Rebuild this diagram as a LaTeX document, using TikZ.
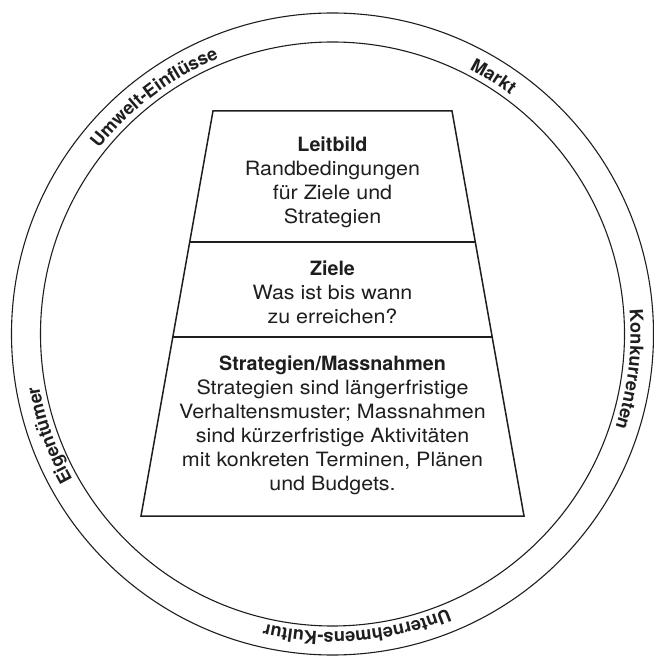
\documentclass[tikz,border=0pt]{standalone}
\usepackage{fontspec}
\setmainfont{TeX Gyre Heros}[UprightFeatures={FakeStretch=1.09}]
\usepackage{tikz}
\usetikzlibrary{decorations.text}
\definecolor{lbink}{RGB}{30,30,30}
\newcommand{\ringfont}{\fontsize{18.2}{20}\selectfont\bfseries}
\newcommand{\boxfont}{\fontsize{19.7}{24}\selectfont}
\tikzset{
  ringline/.style={draw=lbink, line width=1.1pt},
  pyrline/.style={draw=lbink, line width=1.5pt, line join=miter},
  pyrtext/.style={align=center, inner sep=0pt, font=\boxfont, text=lbink},
  ringlabel/.style={decorate, decoration={text along path, text align=center,
    text color=lbink, text={|\ringfont|#1}}}
}

\begin{document}
\begin{tikzpicture}[x=1pt,y=1pt]
  \useasboundingbox (-332.5,-326) rectangle (320.5,334);
  % ring
  \draw[ringline] (0,0) circle[radius=321pt];
  \draw[ringline] (0,0) circle[radius=292pt];
  \path[ringlabel=Umwelt-Einflüsse] (157:298pt) arc[start angle=157, end angle=97, radius=298pt];
  \path[ringlabel=Markt] (88:298pt) arc[start angle=88, end angle=28, radius=298pt];
  \path[ringlabel=Konkurrenten] (23.2:298pt) arc[start angle=23.2, end angle=-36.8, radius=298pt];
  \path[ringlabel=Unternehmens-Kultur] (-55.2:298pt) arc[start angle=-55.2, end angle=-115.2, radius=298pt];
  \path[ringlabel=Eigentümer] (229.7:298pt) arc[start angle=229.7, end angle=169.7, radius=298pt];
  % pyramid
  \draw[pyrline] (-119.5,223) -- (119.5,223) -- (191.5,-182) -- (-191.5,-182) -- cycle;
  \draw[pyrline] (-142.8,92) -- (142.8,92);
  \draw[pyrline] (-159.7,-3) -- (159.7,-3);
  \node[pyrtext] (leitbild) at (0,151.5) {\textbf{Leitbild}\\Randbedingungen\\für Ziele und\\Strategien};
  \node[pyrtext] (ziele) at (0,42) {\textbf{Ziele}\\Was ist bis wann\\zu erreichen?};
  \node[pyrtext] (massnahmen) at (0,-91) {\textbf{Strategien/Massnahmen}\\Strategien sind längerfristige\\Verhaltensmuster; Massnahmen\\sind kürzerfristige Aktivitäten\\mit konkreten Terminen, Plänen\\und Budgets.};
\end{tikzpicture}
\end{document}
